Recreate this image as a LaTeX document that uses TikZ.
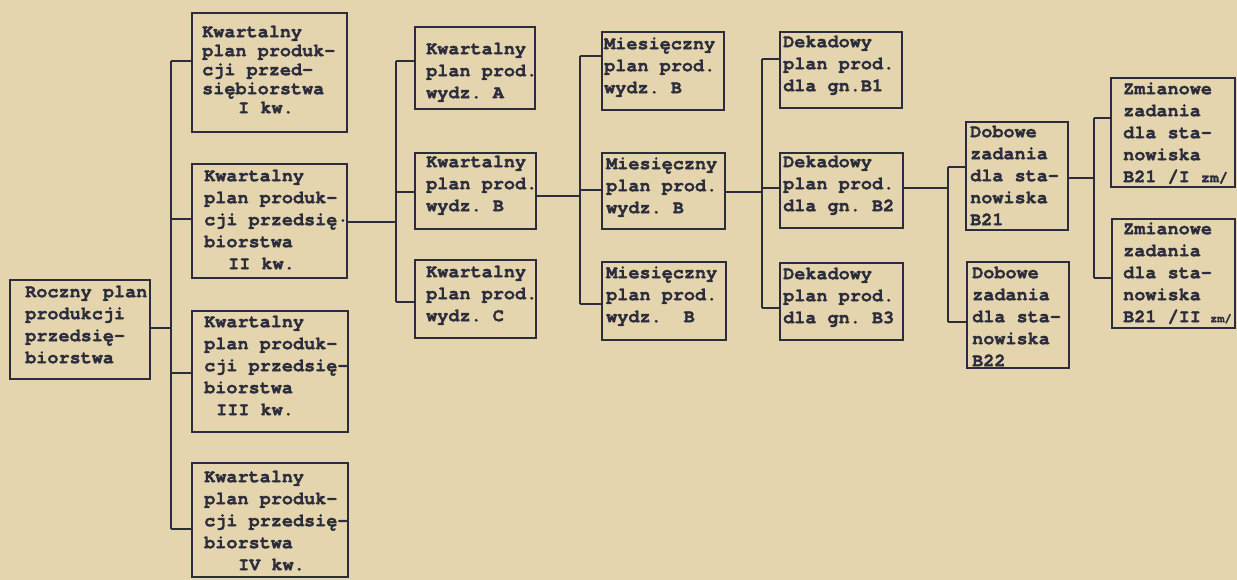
\documentclass[tikz,border=0pt]{standalone}
\usepackage{fontspec}
\setmonofont{TeX Gyre Cursor}[BoldFeatures={FakeBold=1.6}]
\definecolor{ink}{HTML}{2B2D3C}
\definecolor{paper}{HTML}{E5D5AE}
\newcommand\tstr{\rule{0pt}{14bp}}
\begin{document}
\begin{tikzpicture}[x=1bp,y=-1bp,
  box/.style={draw=ink, line width=1.6bp, inner sep=0pt, outer sep=0pt, anchor=north west},
  txt/.style={text=ink, font=\ttfamily\bfseries\fontsize{18.5bp}{22bp}\selectfont, align=left, inner sep=0pt, anchor=north west},
  conn/.style={draw=ink, line width=1.4bp}]
\fill[paper] (0,0) rectangle (1237,580);
\useasboundingbox (0,0) rectangle (1237,580);
% boxes
\node[box, minimum width=140bp, minimum height=99bp] (r) at (10,280) {};
\node[box, minimum width=155bp, minimum height=119bp] (q1) at (192,13) {};
\node[box, minimum width=155bp, minimum height=114bp] (q2) at (192,164) {};
\node[box, minimum width=156bp, minimum height=121bp] (q3) at (192,311) {};
\node[box, minimum width=156bp, minimum height=114bp] (q4) at (192,463) {};
\node[box, minimum width=120bp, minimum height=82bp] (da) at (415,27) {};
\node[box, minimum width=121bp, minimum height=76bp] (db) at (415,153) {};
\node[box, minimum width=121bp, minimum height=78bp] (dc) at (415,260) {};
\node[box, minimum width=122bp, minimum height=78bp] (m1) at (602,32) {};
\node[box, minimum width=123bp, minimum height=76bp] (m2) at (602,153) {};
\node[box, minimum width=124bp, minimum height=78bp] (m3) at (602,262) {};
\node[box, minimum width=122bp, minimum height=76bp] (k1) at (780,32) {};
\node[box, minimum width=123bp, minimum height=75bp] (k2) at (780,153) {};
\node[box, minimum width=123bp, minimum height=77bp] (k3) at (780,263) {};
\node[box, minimum width=102bp, minimum height=108bp] (d1) at (966,122) {};
\node[box, minimum width=102bp, minimum height=106bp] (d2) at (967,262) {};
\node[box, minimum width=124bp, minimum height=109bp] (z1) at (1111,78) {};
\node[box, minimum width=123bp, minimum height=109bp] (z2) at (1112,219) {};
% texts
\node[txt] (rt) at (25,283) {\tstr Roczny plan\\produkcji\\przedsię-\\biorstwa};
\node[txt, font=\ttfamily\bfseries\fontsize{18.5bp}{19bp}\selectfont] (q1t) at (202,23) {\tstr Kwartalny\\plan produk-\\cji przed-\\siębiorstwa\\\hspace*{36bp}I kw.};
\node[txt] (q2t) at (204,167) {\tstr Kwartalny\\plan produk-\\cji przedsię·\\biorstwa\\\hspace*{24bp}II kw.};
\node[txt] (q3t) at (204,313) {\tstr Kwartalny\\plan produk-\\cji przedsię-\\biorstwa\\\hspace*{12bp}III kw.};
\node[txt] (q4t) at (204,468) {\tstr Kwartalny\\plan produk-\\cji przedsię-\\biorstwa\\\hspace*{34bp}IV kw.};
\node[txt] (dat) at (426,40) {\tstr Kwartalny\\plan prod.\\wydz. A};
\node[txt] (dbt) at (426,153) {\tstr Kwartalny\\plan prod.\\wydz. B};
\node[txt] (dct) at (426,263) {\tstr Kwartalny\\plan prod.\\wydz. C};
\node[txt] (m1t) at (604,35) {\tstr Miesięczny\\plan prod.\\wydz. B};
\node[txt] (m2t) at (606,155) {\tstr Miesięczny\\plan prod.\\wydz. B};
\node[txt] (m3t) at (606,264) {\tstr Miesięczny\\plan prod.\\wydz.\hspace*{22bp}B};
\node[txt] (k1t) at (783,33) {\tstr Dekadowy\\plan prod.\\dla gn.B1};
\node[txt] (k2t) at (783,153) {\tstr Dekadowy\\plan prod.\\dla gn. B2};
\node[txt] (k3t) at (783,265) {\tstr Dekadowy\\plan prod.\\dla gn. B3};
\node[txt] (d1t) at (970,123) {\tstr Dobowe\\zadania\\dla sta-\\nowiska\\B21};
\node[txt] (d2t) at (972,264) {\tstr Dobowe\\zadania\\dla sta-\\nowiska\\B22};
\node[txt] (z1t) at (1123,80) {\tstr Zmianowe\\zadania\\dla sta-\\nowiska\\B21 /I {\fontsize{15bp}{15bp}\selectfont zm/}};
\node[txt] (z2t) at (1123,220) {\tstr Zmianowe\\zadania\\dla sta-\\nowiska\\B21 /II{\fontsize{12bp}{12bp}\selectfont\, zm/}};
% connector points
\coordinate (a0) at (171,328); \coordinate (a1) at (171,61); \coordinate (a2) at (171,219);
\coordinate (a3) at (171,373); \coordinate (a4) at (171,529);
\coordinate (b0) at (396,222); \coordinate (b1) at (396,61); \coordinate (b2) at (396,192); \coordinate (b3) at (396,302);
\coordinate (c0) at (580,196); \coordinate (c1) at (580,56); \coordinate (c2) at (580,190); \coordinate (c3) at (580,304);
\coordinate (e0) at (762,192); \coordinate (e1) at (762,59); \coordinate (e2) at (762,188); \coordinate (e3) at (762,308);
\coordinate (f0) at (948,188); \coordinate (f1) at (948,167); \coordinate (f2) at (948,322);
\coordinate (g0) at (1094,178); \coordinate (g1) at (1094,118); \coordinate (g2) at (1094,278);
% connectors
\draw[conn] (a0 -| r.east) -- (a0);
\draw[conn] (a1) -- (a4);
\draw[conn] (a1) -- (a1 -| q1.west);
\draw[conn] (a2) -- (a2 -| q2.west);
\draw[conn] (a3) -- (a3 -| q3.west);
\draw[conn] (a4) -- (a4 -| q4.west);
\draw[conn] (b0 -| q2.east) -- (b0);
\draw[conn] (b1) -- (b3);
\draw[conn] (b1) -- (b1 -| da.west);
\draw[conn] (b2) -- (b2 -| db.west);
\draw[conn] (b3) -- (b3 -| dc.west);
\draw[conn] (c0 -| db.east) -- (c0);
\draw[conn] (c1) -- (c3);
\draw[conn] (c1) -- (c1 -| m1.west);
\draw[conn] (c2) -- (c2 -| m2.west);
\draw[conn] (c3) -- (c3 -| m3.west);
\draw[conn] (e0 -| m2.east) -- (e0);
\draw[conn] (e1) -- (e3);
\draw[conn] (e1) -- (e1 -| k1.west);
\draw[conn] (e2) -- (e2 -| k2.west);
\draw[conn] (e3) -- (e3 -| k3.west);
\draw[conn] (f0 -| k2.east) -- (f0);
\draw[conn] (f1) -- (f2);
\draw[conn] (f1) -- (f1 -| d1.west);
\draw[conn] (f2) -- (f2 -| d2.west);
\draw[conn] (g0 -| d1.east) -- (g0);
\draw[conn] (g1) -- (g2);
\draw[conn] (g1) -- (g1 -| z1.west);
\draw[conn] (g2) -- (g2 -| z2.west);
\end{tikzpicture}
\end{document}
